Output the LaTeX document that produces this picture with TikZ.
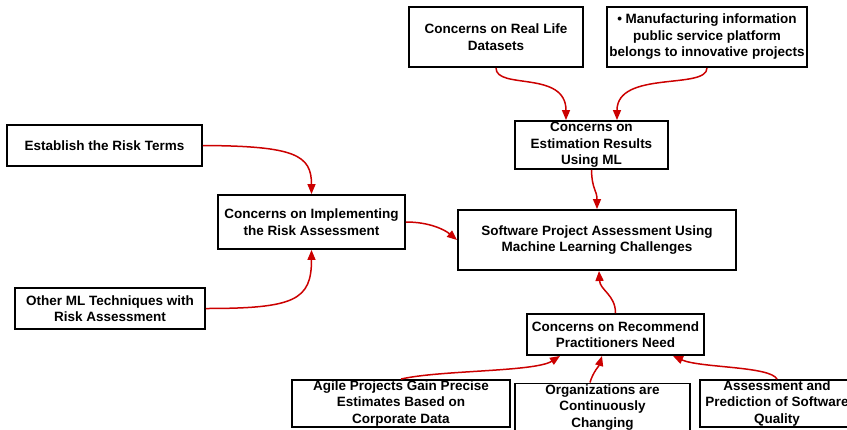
\documentclass[tikz,border=0pt]{standalone}
\usepackage{fontspec}
\setmainfont{Liberation Sans}
\usetikzlibrary{arrows.meta}
\definecolor{arrred}{HTML}{CC0000}
\begin{document}
\begin{tikzpicture}[x=1pt,y=-1pt,
  box/.style={draw=black, line width=1.9pt, fill=white, inner sep=0pt, align=center,
    font=\fontsize{13.5}{16.5}\selectfont\bfseries},
  conn/.style={draw=arrred, line width=1.5pt, -{Triangle[length=10pt,width=8pt]}}]
\useasboundingbox[fill=white] (0,0) rectangle (847,429);
\clip (0,0) rectangle (847,429);

\node[box, minimum width=174pt, minimum height=60pt] (rl) at (496,37) {Concerns on Real Life\\Datasets};
\node[box, minimum width=200pt, minimum height=60pt] (mf) at (707,37) {\textbullet{} Manufacturing information\\public service platform\\belongs to innovative projects};
\node[box, minimum width=153pt, minimum height=48pt] (est) at (591.5,145) {Concerns on\\Estimation Results\\Using ML};
\node[box, minimum width=195pt, minimum height=41pt] (er) at (104.5,145.5) {Establish the Risk Terms};
\node[box, minimum width=187pt, minimum height=54pt] (imp) at (311.5,222) {Concerns on Implementing\\the Risk Assessment};
\node[box, minimum width=190pt, minimum height=41pt] (oml) at (110,308.5) {Other ML Techniques with\\Risk Assessment};
\node[box, minimum width=278pt, minimum height=60pt] (main) at (597,240) {Software Project Assessment Using\\Machine Learning Challenges};
\node[box, minimum width=177pt, minimum height=41pt] (rec) at (615.5,334.5) {Concerns on Recommend\\Practitioners Need};
\node[box, minimum width=218pt, minimum height=47pt] (agile) at (401,403.5) {Agile Projects Gain Precise\\Estimates Based on\\Corporate Data};
\node[box, minimum width=175pt, minimum height=48pt] (org) at (602.5,407.5) {Organizations are\\Continuously\\Changing};
\node[box, minimum width=154pt, minimum height=47pt] (as) at (777,403.5) {Assessment and\\Prediction of Software\\Quality};

\draw[conn] (rl.south) .. controls (496,90) and (566,70) .. ([xshift=-25.5pt]est.north);
\draw[conn] (mf.south) .. controls (707,90) and (617,70) .. ([xshift=25.5pt]est.north);
\draw[conn] (est.south) .. controls (592,190) and (597,190) .. (main.north);
\draw[conn] (er.east) .. controls (295,146) and (311.5,155) .. (imp.north);
\draw[conn] (oml.east) .. controls (295,308.5) and (311.5,300) .. (imp.south);
\draw[conn] (imp.east) .. controls (430,222) and (445,230) .. (main.west);
\draw[conn] (rec.north) .. controls (615.5,295) and (600,290) .. ([xshift=2pt]main.south);
\draw[conn] (agile.north) .. controls (440,370) and (535,372) .. ([xshift=-55.5pt]rec.south);
\draw[conn] ([xshift=-12.5pt]org.north) .. controls (593,372) and (599,366) .. ([xshift=-13.5pt]rec.south);
\draw[conn] (as.north) .. controls (770,366) and (700,368) .. ([xshift=57.5pt]rec.south);
\end{tikzpicture}
\end{document}
